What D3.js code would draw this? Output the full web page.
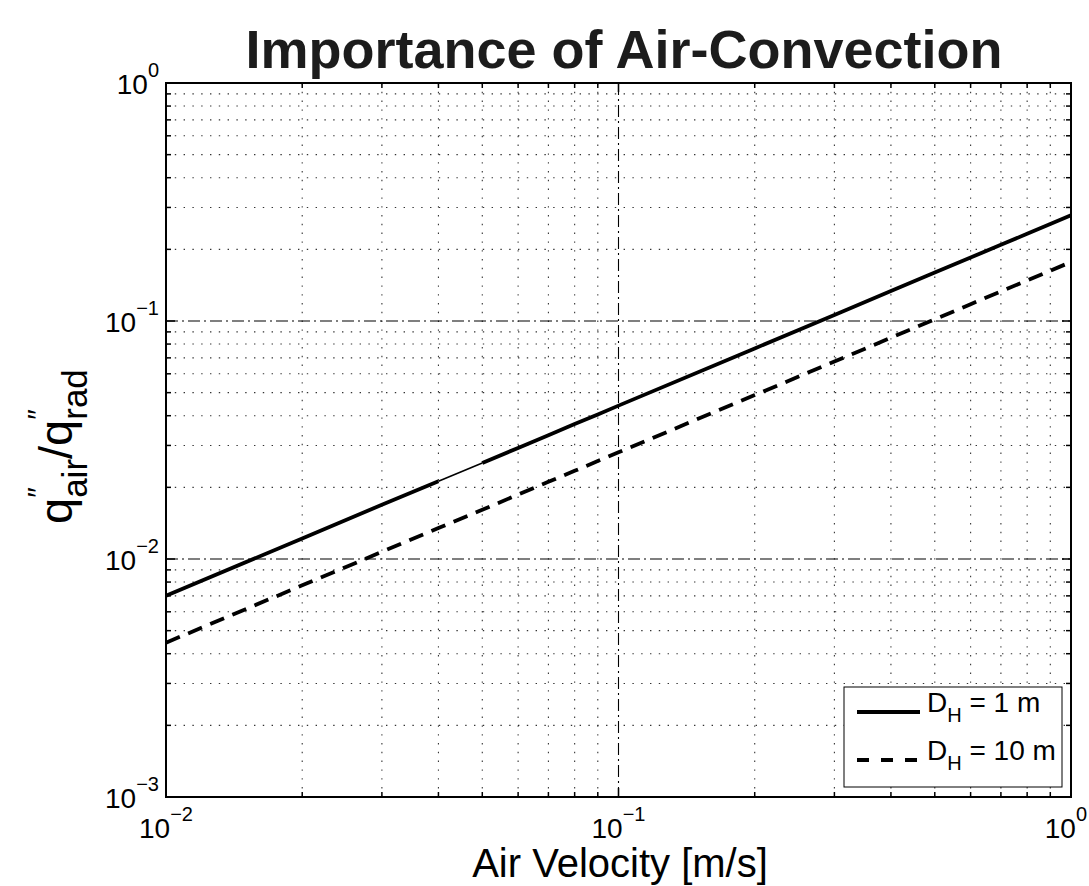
<!DOCTYPE html>
<html>
<head>
<meta charset="utf-8">
<script src="https://cdn.jsdelivr.net/npm/d3@7"></script>
<style>
  html, body { margin: 0; padding: 0; background: #fff; }
  svg { display: block; }
</style>
</head>
<body>
<svg id="chart" width="1089" height="886" font-family="Liberation Sans, Arial, Helvetica, sans-serif"></svg>
<script>
// ---- data ----
const velocity = [0.01, 0.02, 0.03, 0.04, 0.05, 0.06, 0.07, 0.08, 0.09, 0.1,
                  0.2, 0.3, 0.4, 0.5, 0.6, 0.7, 0.8, 0.9, 1.0];
const ratioDH1 = [0.0070, 0.0122, 0.0169, 0.0212, 0.0253, 0.0293, 0.0331, 0.0369, 0.0405, 0.0441,
                  0.0767, 0.1061, 0.1336, 0.1597, 0.1847, 0.2090, 0.2325, 0.2555, 0.2780];
const ratioDH10 = [0.00445, 0.00775, 0.01072, 0.01349, 0.01611, 0.01864, 0.0211, 0.02347, 0.02579, 0.02806,
                   0.04884, 0.06756, 0.08503, 0.1017, 0.1176, 0.1331, 0.1481, 0.1627, 0.1770];
const seriesNames = ["1 m", "10 m"];
const xMajorTicks = [0.01, 0.1, 1];
const xTickExponents = ["\u22122", "\u22121", "0"];
const yMajorTicks = [0.001, 0.01, 0.1, 1];
const yTickExponents = ["\u22123", "\u22122", "\u22121", "0"];
const titleText = "Importance of Air-Convection";
const xLabelText = "Air Velocity [m/s]";

// ---- layout ----
const L = 166, R = 1071, T = 83, B = 797;
const svg = d3.select("#chart");
const x = d3.scaleLog().domain([0.01, 1]).range([L, R]);
const y = d3.scaleLog().domain([0.001, 1]).range([B, T]);

const minorX = [];
[0.01, 0.1].forEach(d => { for (let k = 2; k <= 9; k++) minorX.push(+(d * k).toPrecision(3)); });
const minorY = [];
[0.001, 0.01, 0.1].forEach(d => { for (let k = 2; k <= 9; k++) minorY.push(+(d * k).toPrecision(3)); });

// grid
const grid = svg.append("g");
grid.selectAll(".gxm").data(minorX).join("line")
  .attr("x1", d => x(d)).attr("x2", d => x(d)).attr("y1", T).attr("y2", B)
  .attr("stroke", "#000").attr("stroke-opacity", 0.8).attr("stroke-width", 1.1).attr("stroke-dasharray", "1.4,7.4");
grid.selectAll(".gym").data(minorY).join("line")
  .attr("y1", d => y(d)).attr("y2", d => y(d)).attr("x1", L).attr("x2", R)
  .attr("stroke", "#000").attr("stroke-opacity", 0.8).attr("stroke-width", 1.1).attr("stroke-dasharray", "1.4,7.4");
grid.selectAll(".gxM").data(xMajorTicks.slice(1, -1)).join("line")
  .attr("x1", d => x(d)).attr("x2", d => x(d)).attr("y1", T).attr("y2", B)
  .attr("stroke", "#000").attr("stroke-width", 1.1).attr("stroke-dasharray", "12,4,2,4");
grid.selectAll(".gyM").data(yMajorTicks.slice(1, -1)).join("line")
  .attr("y1", d => y(d)).attr("y2", d => y(d)).attr("x1", L).attr("x2", R)
  .attr("stroke", "#000").attr("stroke-width", 1.1).attr("stroke-dasharray", "12,4,2,4");

// data lines
const pts1 = ratioDH1.map((v, i) => [velocity[i], v]);
const pts10 = ratioDH10.map((v, i) => [velocity[i], v]);
const line = d3.line().x(d => x(d[0])).y(d => y(d[1]));
// solid series: drawn as in the reference, with a thinner joining stroke between 0.04 and 0.05
const iJoin = velocity.indexOf(0.04);
svg.append("path").attr("d", line(pts1.slice(0, iJoin + 1)))
  .attr("fill", "none").attr("stroke", "#000").attr("stroke-width", 3.8);
svg.append("path").attr("d", line(pts1.slice(iJoin, iJoin + 2)))
  .attr("fill", "none").attr("stroke", "#000").attr("stroke-width", 1.6);
svg.append("path").attr("d", line(pts1.slice(iJoin + 1)))
  .attr("fill", "none").attr("stroke", "#000").attr("stroke-width", 3.8);
svg.append("path").attr("d", line(pts10))
  .attr("fill", "none").attr("stroke", "#000").attr("stroke-width", 3.8)
  .attr("stroke-dasharray", "15,9");

// ticks on all four sides
const ticks = svg.append("g").attr("stroke", "#000").attr("stroke-width", 1.5);
function xt(vals, len) {
  vals.forEach(v => {
    ticks.append("line").attr("x1", x(v)).attr("x2", x(v)).attr("y1", B).attr("y2", B - len);
    ticks.append("line").attr("x1", x(v)).attr("x2", x(v)).attr("y1", T).attr("y2", T + len);
  });
}
function yt(vals, len) {
  vals.forEach(v => {
    ticks.append("line").attr("y1", y(v)).attr("y2", y(v)).attr("x1", L).attr("x2", L + len);
    ticks.append("line").attr("y1", y(v)).attr("y2", y(v)).attr("x1", R).attr("x2", R - len);
  });
}
xt(xMajorTicks, 9); xt(minorX, 5);
yt(yMajorTicks, 9); yt(minorY, 5);

// axes box
svg.append("rect").attr("x", L).attr("y", T).attr("width", R - L).attr("height", B - T)
  .attr("fill", "none").attr("stroke", "#000").attr("stroke-width", 2);

// tick labels
const tl = svg.append("g").attr("fill", "#000");
xMajorTicks.forEach((v, i) => {
  const last = i === xMajorTicks.length - 1;
  const t = tl.append("text").attr("x", last ? 1087 : x(v)).attr("y", 838)
    .attr("text-anchor", last ? "end" : "middle");
  t.append("tspan").attr("font-size", 28).text("10");
  t.append("tspan").attr("font-size", 20).attr("dy", -17).text(xTickExponents[i]);
});
yMajorTicks.forEach((v, i) => {
  const t = tl.append("text").attr("x", L - 7).attr("y", y(v) + 11).attr("text-anchor", "end");
  t.append("tspan").attr("font-size", 28).text("10");
  t.append("tspan").attr("font-size", 20).attr("dy", -17).text(yTickExponents[i]);
});

// title
svg.append("text").attr("x", 624).attr("y", 68).attr("text-anchor", "middle")
  .attr("font-size", 54).attr("font-weight", "bold").attr("fill", "#1c1c1c").text(titleText);

// x label
svg.append("text").attr("x", 620).attr("y", 877).attr("text-anchor", "middle")
  .attr("font-size", 40).attr("fill", "#000").text(xLabelText);

// y label (rotated), built piece by piece with measured widths
const yl = svg.append("g").attr("transform", "translate(72,524) rotate(-90)");
let cx = 0;
function piece(str, size, dy, advance) {
  const t = yl.append("text").attr("x", cx).attr("y", dy).attr("font-size", size)
    .attr("fill", "#000").text(str);
  const w = t.node().getComputedTextLength();
  if (advance) cx += w;
  return w;
}
piece("q", 47, 0, true);
piece("\u2033", 30, -24, false);
piece("air", 35, 15, true);
piece("/", 47, 0, true);
piece("q", 47, 0, true);
piece("\u2033", 30, -24, false);
piece("rad", 35, 15, true);

// legend
const lg = svg.append("g");
lg.append("rect").attr("x", 844).attr("y", 687).attr("width", 218).attr("height", 100)
  .attr("fill", "#fff").attr("stroke", "#000").attr("stroke-width", 1);
const rowsY = [712, 760];
seriesNames.forEach((name, i) => {
  lg.append("line").attr("x1", 857).attr("x2", 920).attr("y1", rowsY[i]).attr("y2", rowsY[i])
    .attr("stroke", "#000").attr("stroke-width", 3.8)
    .attr("stroke-dasharray", i === 1 ? "12,12" : null);
  const t = lg.append("text").attr("x", 927).attr("y", rowsY[i]).attr("font-size", 28).attr("fill", "#000");
  t.append("tspan").text("D");
  t.append("tspan").attr("font-size", 20).attr("dy", 10).text("H");
  t.append("tspan").attr("dy", -10).text(" = " + name);
});
</script>
</body>
</html>
